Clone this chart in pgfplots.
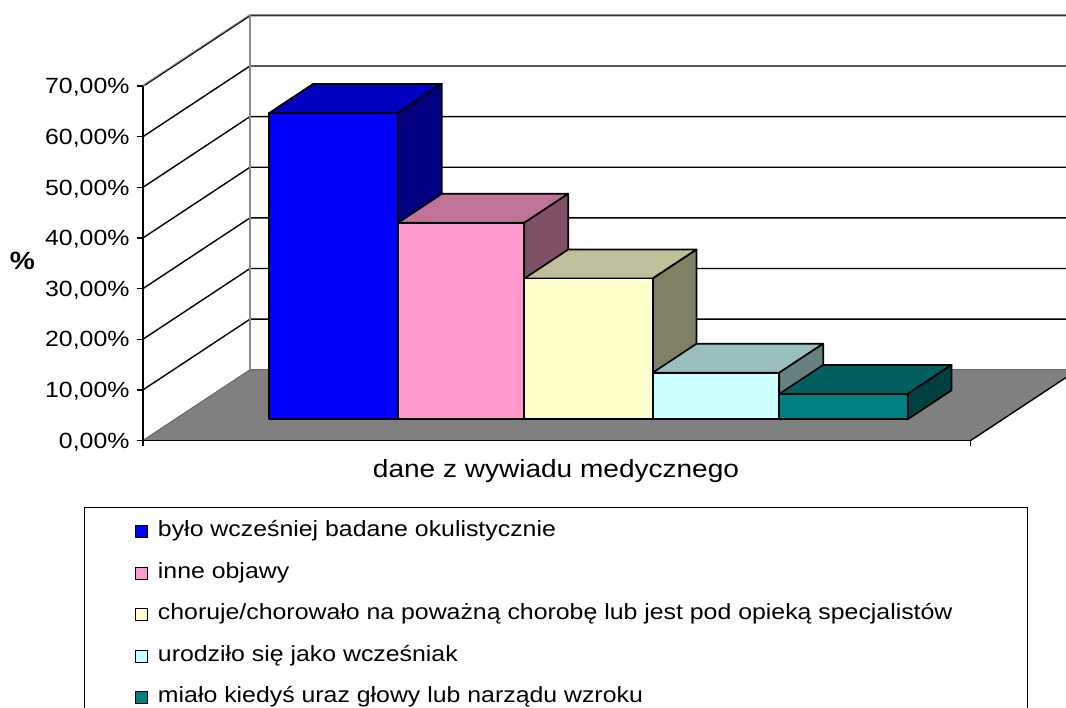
\documentclass[border=0pt]{standalone}
\usepackage{fontspec}
\setmainfont[FakeStretch=1.13]{Liberation Sans}
\usepackage{pgfplots}
\pgfplotsset{compat=1.18}
\definecolor{fl}{HTML}{808080}
\definecolor{wl}{HTML}{8C8C8C}
\definecolor{af}{HTML}{0000FF}\definecolor{at}{HTML}{0000BF}\definecolor{as}{HTML}{000080}
\definecolor{bf}{HTML}{FF99CC}\definecolor{bt}{HTML}{BF7399}\definecolor{bs}{HTML}{805066}
\definecolor{cf}{HTML}{FFFFCC}\definecolor{ct}{HTML}{BFBF99}\definecolor{cs}{HTML}{808066}
\definecolor{df}{HTML}{CCFFFF}\definecolor{dt}{HTML}{99BFBF}\definecolor{ds}{HTML}{668080}
\definecolor{ef}{HTML}{008080}\definecolor{et}{HTML}{006060}\definecolor{es}{HTML}{004040}
\newcommand{\barbox}[6]{%
  \addplot3[draw=black,line width=1.7pt,fill=#5,line join=round] coordinates {(#1,0.30,#3)(#2,0.30,#3)(#2,0.71,#3)(#1,0.71,#3)} --cycle;
  \addplot3[draw=black,line width=1.7pt,fill=#6,line join=round] coordinates {(#2,0.30,0)(#2,0.71,0)(#2,0.71,#3)(#2,0.30,#3)} --cycle;
  \addplot3[draw=black,line width=1.7pt,fill=#4,line join=round] coordinates {(#1,0.30,0)(#2,0.30,0)(#2,0.30,#3)(#1,0.30,#3)} --cycle;
}
\begin{document}
\begin{tikzpicture}[x=1pt,y=1pt]
\path[clip,use as bounding box] (0,0) rectangle (1066,708);
\begin{axis}[
  at={(143pt,267.5pt)},anchor=origin,
  x={(1pt,0pt)},y={(107pt,70.7pt)},z={(0pt,5.064pt)},
  xmin=0,xmax=827.7,ymin=0,ymax=1,zmin=0,zmax=70,
  hide axis,clip=false,no markers]
% floor
\addplot3[draw=none,fill=fl] coordinates {(0,0,0)(827.7,0,0)(827.7,1,0)(0,1,0)} --cycle;
\addplot3[draw=fl!85!black,line width=1.2pt] coordinates {(0,0,0)(0,1,0)(827.7,1,0)};
\addplot3[draw=black,line width=1.4pt] coordinates {(827.7,0,0)(827.7,1,0)};
% walls: gridlines
\addplot3[draw=black,line width=1.4pt] coordinates {(0,0,10)(0,1,10)(827.7,1,10)};
\addplot3[draw=black,line width=1.4pt] coordinates {(0,0,20)(0,1,20)(827.7,1,20)};
\addplot3[draw=black,line width=1.4pt] coordinates {(0,0,30)(0,1,30)(827.7,1,30)};
\addplot3[draw=black,line width=1.4pt] coordinates {(0,0,40)(0,1,40)(827.7,1,40)};
\addplot3[draw=black,line width=1.4pt] coordinates {(0,0,50)(0,1,50)(827.7,1,50)};
\addplot3[draw=black,line width=1.4pt] coordinates {(0,0,60)(0,1,60)(827.7,1,60)};
\addplot3[draw=wl,line width=2.2pt] coordinates {(0,0,70)(0,1,70)(827.7,1,70)};
\addplot3[draw=black,line width=0.8pt] coordinates {(0,0.02,69.9)(0,1,69.9)(827.7,1,69.9)};
\addplot3[draw=wl,line width=2.2pt] coordinates {(0,1,0)(0,1,70)};
% bars
\barbox{94.2}{222.9}{60.5}{af}{at}{as}
\barbox{222.9}{349.2}{38.8}{bf}{bt}{bs}
\barbox{349.2}{477.6}{27.8}{cf}{ct}{cs}
\barbox{477.6}{604.2}{9.2}{df}{dt}{ds}
\barbox{604.2}{732.6}{5.0}{ef}{et}{es}
\end{axis}
\begin{axis}[
  at={(143pt,267.5pt)},anchor=origin,
  scale only axis,width=827.7pt,height=354.5pt,
  xmin=0,xmax=827.7,ymin=0,ymax=70,
  axis x line*=bottom,axis y line*=left,
  axis line style={line width=1.6pt,black},
  tick style={line width=1.3pt,black},
  major tick length=6pt,tick align=outside,
  xtick={0,827.7},xticklabels={,},
  ytick={0,10,20,30,40,50,60,70},
  yticklabels={{0,00\%},{10,00\%},{20,00\%},{30,00\%},{40,00\%},{50,00\%},{60,00\%},{70,00\%}},
  tick label style={font=\fontsize{22}{25}\selectfont},
  yticklabel style={xshift=-4pt,yshift=-1.5pt},
  xlabel={dane z wywiadu medycznego},
  xlabel style={font=\fontsize{24.8}{28}\selectfont,at={(axis description cs:0.499,-0.0875)},anchor=center},
  ylabel={\%},
  ylabel style={font=\bfseries\fontsize{25}{28}\selectfont,rotate=-90,at={(axis description cs:-0.1456,0.506)},anchor=center},
  clip=false,
  legend cell align=left,
  legend image code/.code={\draw[#1,draw=black,line width=1.3pt] (0pt,-6pt) rectangle (12pt,6pt);},
  legend style={at={(axis description cs:-0.0713,-0.1876)},anchor=north west,
    draw=black,line width=1.4pt,inner xsep=50pt,inner ysep=14pt,
    font=\fontsize{22}{25}\selectfont,row sep=21.5pt,
    nodes={inner ysep=0pt,inner xsep=10pt,text depth=5pt,text height=15pt}},
]
\addlegendimage{fill=af}
\addlegendentry{było wcześniej badane okulistycznie}
\addlegendimage{fill=bf}
\addlegendentry{inne objawy}
\addlegendimage{fill=cf}
\addlegendentry{choruje/chorowało na poważną chorobę lub jest pod opieką specjalistów\hspace*{15pt}}
\addlegendimage{fill=df}
\addlegendentry{urodziło się jako wcześniak}
\addlegendimage{fill=ef}
\addlegendentry{miało kiedyś uraz głowy lub narządu wzroku}
\end{axis}
\end{tikzpicture}
\end{document}
